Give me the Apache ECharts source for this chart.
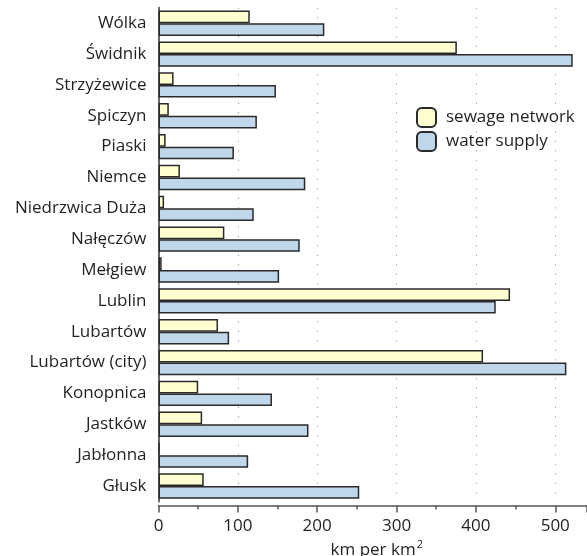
<!DOCTYPE html>
<html>
<head>
<meta charset="utf-8">
<script src="https://cdn.jsdelivr.net/npm/echarts@6/dist/echarts.min.js"></script>
<style>
  html, body { margin: 0; padding: 0; background: #fff; }
  #main { width: 587px; height: 556px; }
</style>
</head>
<body>
<div id="main"></div>
<script>
// gminas, listed top to bottom as in the figure
const places = ['Wólka', 'Świdnik', 'Strzyżewice', 'Spiczyn', 'Piaski', 'Niemce',
  'Niedrzwica Duża', 'Nałęczów', 'Mełgiew', 'Lublin', 'Lubartów',
  'Lubartów (city)', 'Konopnica', 'Jastków', 'Jabłonna', 'Głusk']
// km per km2
const sewage = [115, 376, 19, 13, 9, 27, 7, 83, 4, 443, 75, 409, 50, 55, 1, 57]
const water = [209, 522, 148, 124, 95, 185, 120, 178, 152, 425, 89, 514, 143, 189, 113, 253]
const xTicks = [0, 100, 200, 300, 400, 500]

const textColor = '#231f20'
const fontFamily = 'Open Sans'

let myChart = echarts.init(document.getElementById('main'))
let option = {
  animation: false,
  textStyle: { fontFamily: fontFamily, color: textColor },
  grid: {
    left: 158.5,
    right: 0,
    top: 7.8,
    bottom: 54.6,
    containLabel: false,
    outerBoundsMode: 'none'
  },
  legend: {
    data: ['sewage network', 'water supply'],
    orient: 'vertical',
    left: 416,
    top: 107,
    padding: 0,
    itemWidth: 19,
    itemHeight: 19,
    itemGap: 3,
    icon: 'roundRect',
    textStyle: { fontSize: 17, color: textColor, fontFamily: fontFamily, padding: [0, 0, 0, 5] }
  },
  xAxis: {
    type: 'value',
    min: 0,
    max: 540,
    interval: 100,
    offset: 4,
    name: 'km per km{sup|2}',
    nameLocation: 'middle',
    nameGap: 33,
    nameTextStyle: {
      fontSize: 17,
      color: textColor,
      padding: [0, 0, 0, 8],
      rich: {
        sup: { fontSize: 11, verticalAlign: 'bottom', padding: [0, 0, 11, 1], color: textColor }
      }
    },
    axisLine: { show: true, lineStyle: { color: '#555', width: 1.5 } },
    axisTick: { show: true, length: 7, lineStyle: { color: '#555', width: 1.5 } },
    minorTick: { show: true, splitNumber: 2, length: 4, lineStyle: { color: '#555', width: 1.5 } },
    axisLabel: {
      fontSize: 17,
      color: textColor,
      margin: 12,
      showMaxLabel: false,
      formatter: function (v) { return xTicks.indexOf(v) >= 0 ? String(v) : '' }
    },
    splitLine: {
      show: true,
      showMaxLine: false,
      lineStyle: { color: '#888', type: [1, 8.5], width: 1 }
    }
  },
  yAxis: {
    type: 'category',
    inverse: true,
    data: places,
    offset: 6,
    axisLine: { show: true, lineStyle: { color: '#666', width: 2 } },
    axisTick: { show: false },
    axisLabel: { fontSize: 17, color: textColor, margin: 6 },
    splitLine: { show: false }
  },
  series: [
    {
      name: 'sewage network',
      type: 'bar',
      data: sewage,
      barGap: '0%',
      barCategoryGap: '17.7%',
      itemStyle: { color: '#ffffd0', borderColor: '#2a2a2a', borderWidth: 1.5 }
    },
    {
      name: 'water supply',
      type: 'bar',
      data: water,
      barGap: '0%',
      barCategoryGap: '17.7%',
      itemStyle: { color: '#c0d6ea', borderColor: '#2a2a2a', borderWidth: 1.5 }
    }
  ]
}
myChart.setOption(option)
</script>
</body>
</html>
